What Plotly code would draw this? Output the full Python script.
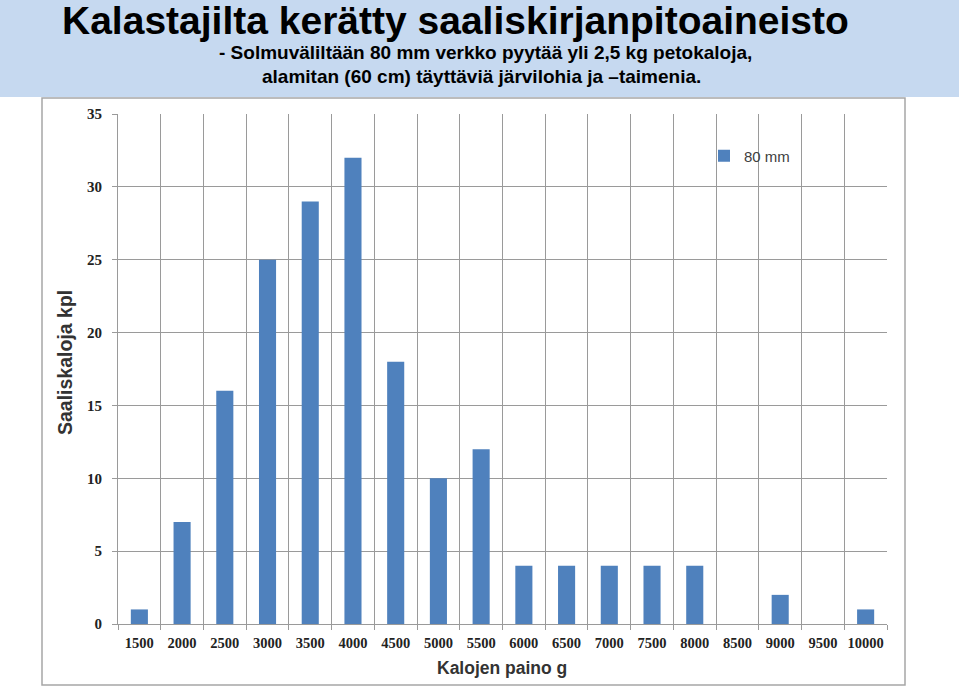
import plotly.graph_objects as go

categories = ["1500", "2000", "2500", "3000", "3500", "4000", "4500", "5000", "5500",
              "6000", "6500", "7000", "7500", "8000", "8500", "9000", "9500", "10000"]
counts = [1, 7, 16, 25, 29, 32, 18, 10, 12, 4, 4, 4, 4, 4, 0, 2, 0, 1]
series_name = "80 mm"
y_ticks = [0, 5, 10, 15, 20, 25, 30, 35]

title = "Kalastajilta kerätty saaliskirjanpitoaineisto"
subtitle1 = "- Solmuväliltään 80 mm verkko pyytää yli 2,5 kg petokaloja,"
subtitle2 = "alamitan (60 cm) täyttäviä järvilohia ja –taimenia."
x_title = "Kalojen paino g"
y_title = "Saaliskaloja kpl"

W, H = 959, 686
L, R, T, B = 118, 887, 114, 624


def px(x):
    return (x - L) / (R - L)


def py(y):
    return (B - y) / (B - T)


fig = go.Figure()
fig.add_trace(go.Bar(x=categories, y=counts, name=series_name,
                     marker=dict(color="#4f81bd", line=dict(width=0))))

shapes = [
    dict(type="rect", xref="paper", yref="paper", x0=px(0), x1=px(W), y0=py(0), y1=py(97),
         fillcolor="#c6d9f0", line=dict(width=0), layer="below"),
    dict(type="rect", xref="paper", yref="paper", x0=px(42), x1=px(905), y0=py(98), y1=py(685),
         fillcolor="rgba(0,0,0,0)", line=dict(color="#a6a6a6", width=1.5), layer="below"),
]

annotations = [
    dict(text="<b>" + title + "</b>", xref="paper", yref="paper", x=px(455), y=py(20),
         xanchor="center", yanchor="middle", showarrow=False,
         font=dict(family="Liberation Sans", size=39, color="#000")),
    dict(text="<b>" + subtitle1 + "</b>", xref="paper", yref="paper", x=px(485), y=py(53),
         xanchor="center", yanchor="middle", showarrow=False,
         font=dict(family="Liberation Sans", size=19, color="#000")),
    dict(text="<b>" + subtitle2 + "</b>", xref="paper", yref="paper", x=px(481), y=py(76),
         xanchor="center", yanchor="middle", showarrow=False,
         font=dict(family="Liberation Sans", size=19, color="#000")),
    dict(text="<b>" + x_title + "</b>", xref="paper", yref="paper", x=px(502), y=py(668),
         xanchor="center", yanchor="middle", showarrow=False,
         font=dict(family="Liberation Sans", size=17.5, color="#333")),
    dict(text="<b>" + y_title + "</b>", xref="paper", yref="paper", x=px(65), y=py(363),
         xanchor="center", yanchor="middle", showarrow=False, textangle=-90,
         font=dict(family="Liberation Sans", size=19.5, color="#333")),
]

fig.update_layout(
    width=W, height=H,
    margin=dict(l=L, r=W - R, t=T, b=H - B, pad=0),
    paper_bgcolor="white", plot_bgcolor="white",
    bargap=0.6,
    showlegend=True,
    legend=dict(x=px(704), y=py(156), xanchor="left", yanchor="middle",
                bgcolor="rgba(0,0,0,0)", font=dict(family="Liberation Sans", size=15, color="#404040"),
                itemwidth=30),
    shapes=shapes,
    annotations=annotations,
    xaxis=dict(type="category", tickson="boundaries", showgrid=True, gridcolor="#9a9a9a", gridwidth=1,
               ticks="outside", ticklen=5, tickcolor="#9a9a9a", showline=True, linecolor="#9a9a9a",
               tickangle=0, automargin=False, ticklabelstandoff=6,
               tickfont=dict(family="Liberation Serif", size=14.5, color="#222", weight="bold"),
               mirror=False),
    yaxis=dict(range=[0, 35], tickvals=y_ticks, showgrid=True, gridcolor="#9a9a9a", gridwidth=1,
               ticks="outside", ticklen=5, tickcolor="#9a9a9a", showline=True, linecolor="#9a9a9a",
               zeroline=False, automargin=False,
               tickfont=dict(family="Liberation Serif", size=15, color="#222", weight="bold"),
               ticklabelstandoff=7),
)

fig.write_html("out.html")
